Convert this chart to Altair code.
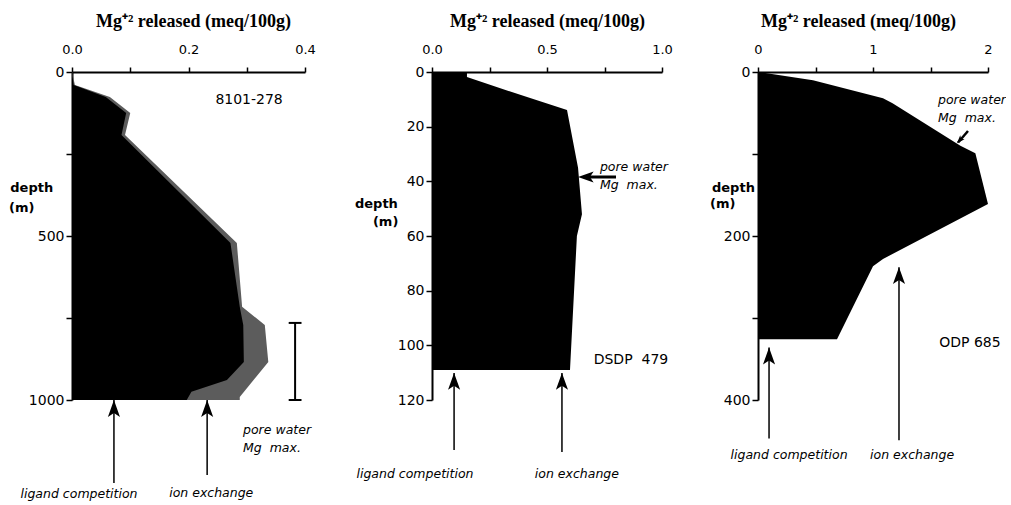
import altair as alt
import pandas as pd

TITLE = "Mg\u207a\u00b2 released (meq/100g)"
ARROW = "M0,0L-0.75,2.1L0,1.6L0.75,2.1Z"

# ---- Core 8101-278 -------------------------------------------------------
p1_depth = [0, 40, 76, 125, 192, 521, 716, 771, 884, 991, 1000]
p1_mg = [0, 0.005, 0.065, 0.100, 0.091, 0.283, 0.292, 0.331, 0.337, 0.288, 0.288]
p1_core_depth = [0, 40, 76, 125, 192, 521, 716, 771, 884, 939, 975, 1000]
p1_core_mg = [0, 0.003, 0.058, 0.093, 0.085, 0.272, 0.288, 0.294, 0.295, 0.266, 0.205, 0.197]
p1_xticks = [0, 0.1, 0.2, 0.3, 0.4]
p1_xlabels = ["0.0", "", "0.2", "", "0.4"]
p1_yticks = [0, 250, 500, 750, 1000]
p1_ylabels = ["0", "", "500", "", "1000"]

# ---- DSDP 479 ------------------------------------------------------------
p2_depth = [0, 1.8, 9.1, 13.9, 35, 52, 60, 109]
p2_mg = [0.152, 0.152, 0.41, 0.587, 0.635, 0.652, 0.63, 0.60]
p2_xticks = [0, 0.25, 0.5, 0.75, 1.0]
p2_xlabels = ["0.0", "", "0.5", "", "1.0"]
p2_yticks = [0, 20, 40, 60, 80, 100, 120]
p2_ylabels = ["0", "20", "40", "60", "80", "100", "120"]

# ---- ODP 685 -------------------------------------------------------------
p3_depth = [0, 10, 32, 38, 90, 99, 161, 228, 237, 326]
p3_mg = [0, 0.478, 1.087, 1.17, 1.76, 1.89, 2.0, 1.087, 1.0, 0.687]
p3_xticks = [0, 0.5, 1, 1.5, 2]
p3_xlabels = ["0", "", "1", "", "2"]
p3_yticks = [0, 100, 200, 300, 400]
p3_ylabels = ["0", "", "200", "", "400"]

# arrows / brackets: (mg, depth, mg2, depth2, stroke width)
p1_rules = [(0.072, 1253, 0.072, 1000, 1.5), (0.232, 1229, 0.232, 1000, 1.5),
            (0.383, 765, 0.383, 1000, 2), (0.372, 765, 0.394, 765, 2),
            (0.372, 1000, 0.394, 1000, 2)]
p2_rules = [(0.096, 138.3, 0.096, 110.1, 1.5), (0.565, 139, 0.565, 110.1, 1.5),
            (0.80, 38.4, 0.66, 38.4, 3)]
p3_rules = [(0.096, 447, 0.096, 336, 1.5), (1.226, 449, 1.226, 238, 1.5),
            (1.826, 72, 1.74, 86, 2.5)]

# arrow heads: (mg, depth, angle, size)
p1_heads = [(0.072, 1000, 0, 260), (0.232, 1000, 0, 260)]
p2_heads = [(0.096, 110.1, 0, 260), (0.565, 110.1, 0, 260), (0.635, 38.4, 270, 220)]
p3_heads = [(0.096, 336, 0, 260), (1.226, 238, 0, 260), (1.73, 87, 222, 60)]

# notes: (mg, depth, text, kind, anchor)
MGMAX = "Mg\u00a0 max."
p1_notes = [(0.304, 85, "8101-278", "plain", "center"),
            (0.2936, 1091, "pore water", "italic", "left"),
            (0.2936, 1146, MGMAX, "italic", "left"),
            (0.012, 1288, "ligand competition", "italic", "center"),
            (0.239, 1283, "ion exchange", "italic", "center"),
            (-0.106, 354, "depth", "bold", "left"),
            (-0.108, 415, "(m)", "bold", "left")]
p2_notes = [(0.73, 34.8, "pore water", "italic", "left"),
            (0.73, 41.3, MGMAX, "italic", "left"),
            (0.865, 105.4, "DSDP\u00a0 479", "plain", "center"),
            (-0.074, 147, "ligand competition", "italic", "center"),
            (0.63, 147, "ion exchange", "italic", "center"),
            (-0.335, 48.3, "depth", "bold", "left"),
            (-0.257, 54.9, "(m)", "bold", "left")]
p3_notes = [(1.565, 34, "pore water", "italic", "left"),
            (1.565, 56, MGMAX, "italic", "left"),
            (1.843, 330, "ODP 685", "plain", "center"),
            (0.27, 467, "ligand competition", "italic", "center"),
            (1.34, 467, "ion exchange", "italic", "center"),
            (-0.4, 142, "depth", "bold", "left"),
            (-0.417, 161, "(m)", "bold", "left")]

TEXT_STYLE = {
    "plain": dict(font="DejaVu Sans", fontSize=14),
    "italic": dict(font="DejaVu Sans", fontSize=12.5, fontStyle="italic"),
    "bold": dict(font="DejaVu Sans", fontSize=13, fontWeight="bold"),
}


def label_expr(values, labels):
    parts = [f"datum.value == {v} ? '{l}'" for v, l in zip(values, labels)]
    return " : ".join(parts) + " : ''"


def panel(depth, mg, core, rules, heads, notes, xdom, xpx, width,
          xticks, xlabels, ydom, yticks, ylabels, title_x):
    xs = alt.Scale(domain=xdom, range=[0, xpx], nice=False, zero=False)
    ys = alt.Scale(domain=ydom, reverse=True, nice=False, zero=False)
    xa = alt.Axis(orient="top", values=xticks, labelExpr=label_expr(xticks, xlabels),
                  title=TITLE, titleX=title_x, grid=False, labelFlush=False)
    ya = alt.Axis(orient="left", values=yticks, labelExpr=label_expr(yticks, ylabels),
                  grid=False, labelFlush=False)
    X = alt.X("mg:Q", scale=xs, axis=xa)
    Y = alt.Y("depth:Q", scale=ys, axis=ya, title=None)

    layers = []
    prof = pd.DataFrame({"depth": depth, "mg": mg})
    fill_outer = "#5c5c5c" if core else "black"
    layers.append(alt.Chart(prof).mark_area(orient="horizontal", color=fill_outer)
                  .encode(x=X, y=Y))
    if core:
        cdf = pd.DataFrame({"depth": core[0], "mg": core[1]})
        layers.append(alt.Chart(cdf).mark_area(orient="horizontal", color="black")
                      .encode(x=X, y=Y))

    rdf = pd.DataFrame(rules, columns=["mg", "depth", "mg2", "depth2", "w"])
    layers.append(alt.Chart(rdf).mark_rule(color="black").encode(
        x=X, y=Y, x2="mg2:Q", y2="depth2:Q",
        strokeWidth=alt.StrokeWidth("w:Q", scale=None)))

    hdf = pd.DataFrame(heads, columns=["mg", "depth", "ang", "sz"])
    layers.append(alt.Chart(hdf).mark_point(shape=ARROW, filled=True, color="black",
                                            opacity=1, strokeWidth=0).encode(
        x=X, y=Y, angle=alt.Angle("ang:Q", scale=None),
        size=alt.Size("sz:Q", scale=None)))

    ndf = pd.DataFrame(notes, columns=["mg", "depth", "text", "kind", "anchor"])
    for kind, style in TEXT_STYLE.items():
        for anchor in ["left", "center"]:
            sub = ndf[(ndf["kind"] == kind) & (ndf["anchor"] == anchor)]
            if len(sub) == 0:
                continue
            layers.append(alt.Chart(sub).mark_text(align=anchor, baseline="middle",
                                                   color="black", **style)
                          .encode(x=X, y=Y, text="text:N"))

    return alt.layer(*layers).properties(width=width, height=328)


c1 = panel(p1_depth, p1_mg, (p1_core_depth, p1_core_mg), p1_rules, p1_heads, p1_notes,
           [0, 0.4], 233, 264, p1_xticks, p1_xlabels, [0, 1000], p1_yticks, p1_ylabels, 121)
c2 = panel(p2_depth, p2_mg, None, p2_rules, p2_heads, p2_notes,
           [0, 1.0], 230, 230, p2_xticks, p2_xlabels, [0, 120], p2_yticks, p2_ylabels, 115)
c3 = panel(p3_depth, p3_mg, None, p3_rules, p3_heads, p3_notes,
           [0, 2.0], 230, 230, p3_xticks, p3_xlabels, [0, 400], p3_yticks, p3_ylabels, 100)

chart = (
    alt.hconcat(c1, c2, c3, spacing=96, bounds="flush")
    .properties(padding={"left": 9, "top": 12, "right": 0, "bottom": 0},
                background="white")
    .configure_view(strokeOpacity=0)
    .configure_axis(
        domainColor="black", domainWidth=2, tickColor="black", tickWidth=1.5,
        tickSize=5, labelColor="black", labelFont="DejaVu Sans",
        titleColor="black", titleFont="Liberation Serif", titleFontSize=18,
        titleFontWeight="bold",
    )
    .configure_axisTop(labelFontSize=13, labelPadding=11, titlePadding=13)
    .configure_axisLeft(labelFontSize=14, labelPadding=2, tickSize=6)
)

chart.save("out.html", embed_options={"renderer": "svg", "actions": False})
